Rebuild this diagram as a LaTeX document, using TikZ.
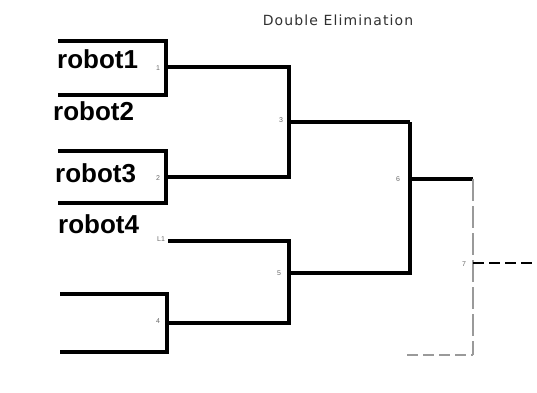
\documentclass[tikz,border=0pt]{standalone}
\usepackage{fontspec}
\setmainfont{Liberation Sans}
\newfontfamily\titlefont[LetterSpace=8]{DejaVu Sans}
\usetikzlibrary{positioning}

\definecolor{pendgray}{HTML}{9A9A9A}
\definecolor{numgray}{HTML}{6A6A6A}
\definecolor{titlegray}{HTML}{303030}

\tikzset{
  bracket/.style={line width=4pt},
  robot/.style={anchor=base west, inner sep=0pt,
                font=\fontsize{26}{26}\selectfont\bfseries},
  matchno/.style={inner sep=0pt, text=numgray,
                  font=\fontsize{7}{7}\selectfont},
  pending/.style={line width=2pt, pendgray, dash pattern=on 22pt off 5pt},
  pendline/.style={line width=2pt, dash pattern=on 11pt off 5pt}
}

\begin{document}
\begin{tikzpicture}[x=1pt, y=-1pt]
            \useasboundingbox (0,0) rectangle (537,392);
            \node[font=\titlefont\fontsize{14}{14}\selectfont, text=titlegray] (title) at (338,20) {Double Elimination};

            % players
            \node[robot] (robot1) at (57,68) {robot1};
            \node[robot] (robot2) at (53,120) {robot2};
            \node[robot] (robot3) at (55,182) {robot3};
            \node[robot] (robot4) at (58,233) {robot4};

            % bracket points
            \coordinate (m1a) at (58,41);
            \coordinate (m1b) at (58,95);
            \coordinate (m1) at (166,67);
            \coordinate (m2a) at (58,151);
            \coordinate (m2b) at (58,203);
            \coordinate (m2) at (166,177);
            \coordinate (m3) at (289,122);
            \coordinate (l1) at (168,241);
            \coordinate (m4a) at (60,294);
            \coordinate (m4b) at (60,352);
            \coordinate (m4) at (167,323);
            \coordinate (m5) at (289,273);
            \coordinate (m6) at (410,179);
            \coordinate (m7) at (473,263);
            \coordinate (m7b) at (407,355);
            \coordinate (out) at (535,263);

            % winners side
            \draw[bracket] (m1a) -| (m1 |- m1b) -- (m1b);
            \draw[bracket] (m2a) -| (m2 |- m2b) -- (m2b);
            \draw[bracket] (m1) -- (m3 |- m1) -- (m3 |- m2) -- (m2);
            \draw[bracket] (m3) -- (m6 |- m3);

            % losers side
            \draw[bracket] (m4a) -| (m4 |- m4b) -- (m4b);
            \draw[bracket] (l1) -- (m5 |- l1) -- (m5 |- m4) -- (m4);
            \draw[bracket] (m5) -- (m6 |- m5) -- (m6 |- m3);
            \draw[bracket] (m6) -- (m7 |- m6);

            % final
            \draw[pending] (m7 |- m6) -- (m7 |- m7b);
            \draw[pendline, pendgray] (m7b) -- (m7 |- m7b);
            \draw[pendline] (m7) -- (out);

            % match numbers
            \node[matchno] (n1) at (158,68) {1};
            \node[matchno] (n2) at (158,178) {2};
            \node[matchno] (n3) at (281,120) {3};
            \node[matchno] (nl1) at (161,239) {L1};
            \node[matchno] (n4) at (158,321) {4};
            \node[matchno] (n5) at (279,273) {5};
            \node[matchno] (n6) at (398,179) {6};
            \node[matchno] (n7) at (464,264) {7};
        \end{tikzpicture}
\end{document}
